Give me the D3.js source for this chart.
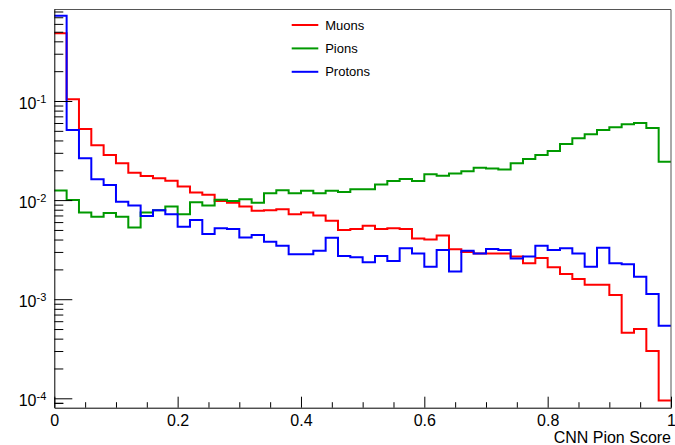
<!DOCTYPE html>
<html>
<head>
<meta charset="utf-8">
<script src="https://cdn.jsdelivr.net/npm/d3@7"></script>
<style>
  body { margin: 0; background: #fff; }
  svg { display: block; font-family: "Liberation Sans", Arial, sans-serif; }
  .axis text { fill: #000; }
</style>
</head>
<body>
<script>
// histogram contents, 50 bins of width 0.02 on [0, 1]
const binEdges = d3.range(0, 51).map(i => i / 50);
const muons = [0.482, 0.104, 0.0521, 0.0357, 0.0285, 0.0235, 0.0189, 0.0175, 0.0166, 0.0157,
               0.0137, 0.0119, 0.0113, 0.0098, 0.0094, 0.0086, 0.0078, 0.0079, 0.0081, 0.0072,
               0.0075, 0.0070, 0.0062, 0.0050, 0.0051, 0.0055, 0.0051, 0.0052, 0.0051, 0.0041,
               0.0040, 0.0044, 0.0032, 0.0030, 0.0029, 0.0029, 0.0029, 0.0027, 0.0023, 0.0026,
               0.0021, 0.0018, 0.0016, 0.0014, 0.0014, 0.0011, 0.00046, 0.00050, 0.00030, 0.000095];
const pions = [0.0125, 0.0100, 0.0075, 0.0068, 0.0074, 0.0068, 0.0053, 0.0075, 0.0079, 0.0086,
               0.0072, 0.0095, 0.0088, 0.0101, 0.0098, 0.0102, 0.0094, 0.0117, 0.0126, 0.0117,
               0.0124, 0.0117, 0.0124, 0.0121, 0.0129, 0.0129, 0.0144, 0.0156, 0.0163, 0.0156,
               0.0182, 0.0176, 0.0186, 0.0195, 0.0212, 0.0208, 0.0204, 0.0235, 0.0260, 0.0285,
               0.0313, 0.0368, 0.0420, 0.0461, 0.0510, 0.0543, 0.0582, 0.0600, 0.0534, 0.0244];
const protons = [0.726, 0.051, 0.0264, 0.0162, 0.0142, 0.0096, 0.0088, 0.0069, 0.0079, 0.0072,
                 0.0054, 0.0063, 0.00455, 0.0052, 0.0051, 0.0042, 0.00445, 0.0038, 0.00347, 0.00284,
                 0.00284, 0.00309, 0.00418, 0.00273, 0.00265, 0.00236, 0.00273, 0.00243, 0.00326, 0.0029,
                 0.00213, 0.00313, 0.0019, 0.00309, 0.0029, 0.00321, 0.00313, 0.00258, 0.00269, 0.00347,
                 0.00313, 0.00326, 0.0029, 0.00213, 0.00331, 0.0023, 0.00225, 0.00169, 0.00113, 0.00054];

const seriesNames = ["Muons", "Pions", "Protons"];
const seriesValues = [muons, pions, protons];
const seriesColors = ["#ff0000", "#009900", "#0000ff"];

const xMajorTicks = [0, 0.2, 0.4, 0.6, 0.8, 1];
const yDecades = [-4, -3, -2, -1];
const xTitle = "CNN Pion Score";

const w = 675;
const h = 445;
const margin = { top: 9, bottom: 37.3, left: 54.3, right: 4 };
const width = w - (margin.left + margin.right);
const height = h - (margin.top + margin.bottom);

const svg = d3.select("body")
              .append("svg")
                .attr("width", w)
                .attr("height", h);

const chart = svg.append("g")
                 .attr("transform", "translate(" + margin.left + "," + margin.top + ")");

const x = d3.scaleLinear()
            .domain([0, 1])
            .range([0, width]);

const y = d3.scaleLog()
            .domain([8.04e-5, 0.848])
            .range([height, 0]);

//histogram outlines, drawn as steps
const line = d3.line()
               .x(d => x(d[0]))
               .y(d => y(Math.max(d[1], y.domain()[0])))
               .curve(d3.curveStepAfter);

seriesValues.forEach((vals, k) => {
  const pts = vals.map((v, i) => [binEdges[i], v]);
  pts.push([binEdges[50], vals[vals.length - 1]]);
  chart.append("path")
       .datum(pts)
       .attr("d", line)
       .attr("fill", "none")
       .attr("stroke", seriesColors[k])
       .attr("stroke-width", 2);
});

//frame top and right
chart.append("path")
     .attr("d", "M0,0.5H" + width + "V" + height)
     .attr("fill", "none")
     .attr("stroke", "#555")
     .attr("stroke-width", 1);

//x axis, ticks pointing into the pad
const xMinor = d3.range(0, 1.001, 0.05).filter(v => Math.abs(v * 5 - Math.round(v * 5)) > 1e-6);

chart.append("g")
     .attr("transform", "translate(0," + height + ")")
     .call(d3.axisBottom(x).tickValues(xMinor).tickSizeInner(-5.5).tickSizeOuter(0).tickFormat(""))
     .call(g => g.select(".domain").remove());

chart.append("g")
     .classed("x axis", true)
     .attr("transform", "translate(0," + height + ")")
     .call(d3.axisBottom(x)
             .tickValues(xMajorTicks)
             .tickSizeInner(-11)
             .tickSizeOuter(0)
             .tickPadding(7)
             .tickFormat(d => d === 0 || d === 1 ? d3.format("d")(d) : d3.format(".1f")(d)))
     .call(g => g.selectAll("text").style("font-size", "16px"));

//y axis, log scale
const yMinor = [];
yDecades.concat([-5]).forEach(e => {
  for (let m = 2; m <= 9; m++) {
    const v = m * Math.pow(10, e);
    if (v >= y.domain()[0] && v <= y.domain()[1]) yMinor.push(v);
  }
});
yMinor.push(...[8.5e-5, 9e-5, 9.5e-5].filter(v => v >= y.domain()[0]).slice(1, 2));

chart.append("g")
     .call(d3.axisLeft(y).tickValues(yMinor).tickSizeInner(-9).tickSizeOuter(0).tickFormat(""))
     .call(g => g.select(".domain").remove());

const yAxisG = chart.append("g")
     .classed("y axis", true)
     .call(d3.axisLeft(y)
             .tickValues(yDecades.map(e => Math.pow(10, e)))
             .tickSizeInner(-18)
             .tickSizeOuter(0)
             .tickPadding(8));

yAxisG.selectAll(".tick text")
      .attr("dy", "0.45em")
      .style("font-size", "16px")
      .each(function(d) {
        const t = d3.select(this);
        const e = Math.round(Math.log10(d));
        t.text(null);
        t.append("tspan").text("10");
        t.append("tspan")
         .attr("dy", "-0.55em")
         .style("font-size", "11px")
         .text("-" + Math.abs(e));
      });

chart.selectAll(".axis .domain").attr("stroke", "#000");

//axis title
svg.append("text")
   .attr("x", margin.left + width)
   .attr("y", 443)
   .attr("text-anchor", "end")
   .style("font-size", "16px")
   .text(xTitle);

//legend
const legend = svg.append("g")
                  .attr("transform", "translate(291.7,25)");

seriesNames.forEach((name, k) => {
  const row = legend.append("g")
                    .attr("transform", "translate(0," + (k * 23.4) + ")");
  row.append("line")
     .attr("x1", 0)
     .attr("x2", 26.6)
     .attr("stroke", seriesColors[k])
     .attr("stroke-width", 2);
  row.append("text")
     .attr("x", 33.5)
     .attr("dy", "0.35em")
     .style("font-size", "13px")
     .attr("fill", "#000")
     .text(name);
});
</script>
</body>
</html>
